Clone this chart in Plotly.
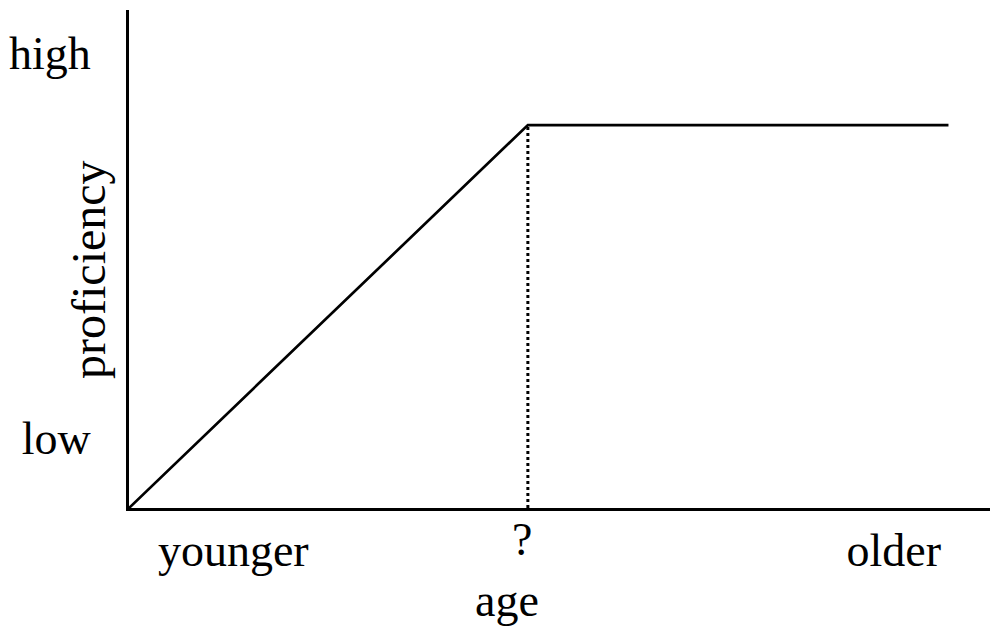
import plotly.graph_objects as go

# schematic curve: proficiency against age
age = [0.0, 0.459, 0.943]
proficiency = [0.0, 0.769, 0.769]

# the unknown critical age (dotted drop line)
critical_age = [0.459, 0.459]
critical_level = [0.0, 0.769]

x_tick_vals = [0.12, 0.88]
x_tick_text = ["younger", "older"]
y_tick_vals = [0.914, 0.141]
y_tick_text = ["high", "low"]

serif = "Liberation Serif, Times New Roman, serif"

fig = go.Figure()
fig.add_trace(go.Scatter(x=age, y=proficiency, mode="lines",
                         line=dict(color="black", width=2.7)))
fig.add_trace(go.Scatter(x=critical_age, y=critical_level, mode="lines",
                         line=dict(color="black", width=3, dash="dot")))

# page body adds an 8px offset, so the figure is a bit smaller than the window
fig.update_layout(
    width=990, height=621,
    margin=dict(l=121, r=0, t=2, b=121),
    plot_bgcolor="white", paper_bgcolor="white",
    showlegend=False,
    font=dict(family=serif, size=46, color="black"),
)
fig.update_xaxes(range=[0, 1], showgrid=False, zeroline=False,
                 showline=True, linecolor="black", linewidth=3,
                 tickvals=x_tick_vals, ticktext=x_tick_text,
                 ticks="", ticklabelstandoff=0)
fig.update_yaxes(range=[0, 1], showgrid=False, zeroline=False,
                 showline=True, linecolor="black", linewidth=3,
                 tickvals=y_tick_vals, ticktext=y_tick_text,
                 ticks="", ticklabelstandoff=26)

fig.add_annotation(text="?", xref="x", yref="paper", x=0.452, y=-0.118,
                   xanchor="center", yanchor="bottom", showarrow=False)
fig.add_annotation(text="proficiency", xref="paper", yref="paper",
                   x=-0.046, y=0.478, textangle=-90, showarrow=False,
                   xanchor="center", yanchor="middle", font=dict(size=48))
fig.add_annotation(text="age", xref="paper", yref="paper",
                   x=0.435, y=-0.24, xanchor="center", yanchor="bottom",
                   showarrow=False)

fig.write_html("out.html")
